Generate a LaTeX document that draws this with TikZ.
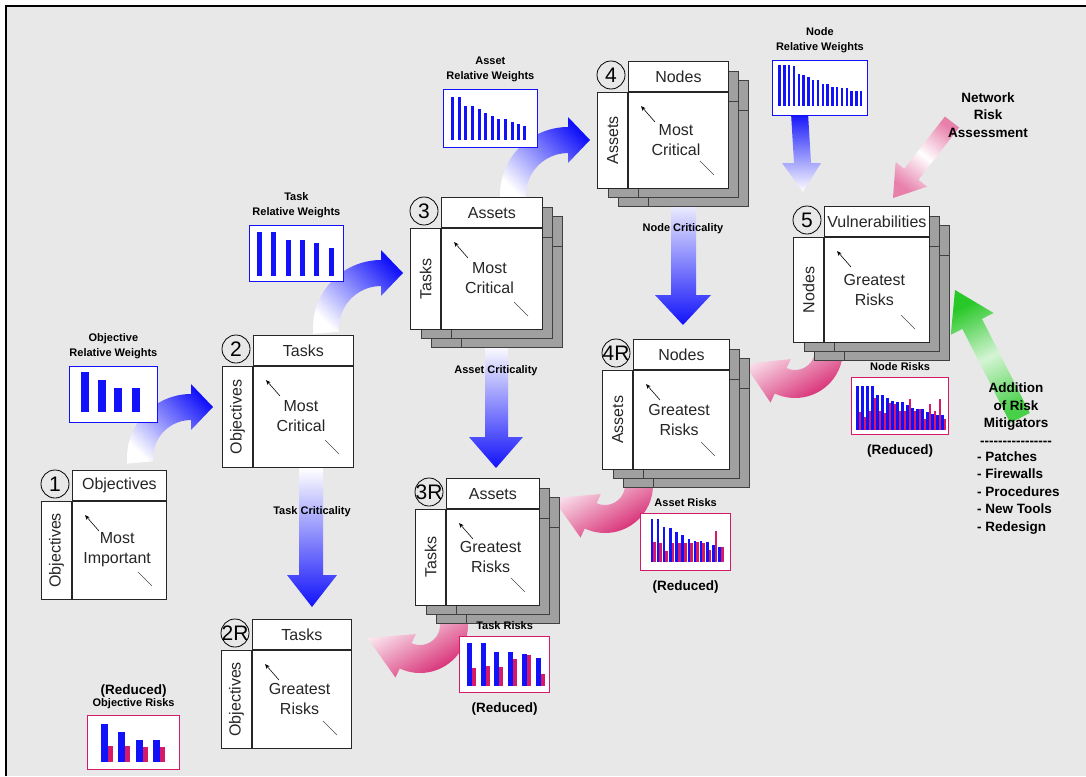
\documentclass[tikz,border=0pt]{standalone}
\usepackage{fontspec}
\setmainfont{Liberation Sans}
\usetikzlibrary{calc,arrows.meta,positioning}

\definecolor{bgc}{RGB}{232,232,232}
\definecolor{wblue}{RGB}{18,18,250}
\definecolor{rpink}{RGB}{212,26,104}
\definecolor{shadowgray}{RGB}{160,160,160}
\definecolor{ggreen}{RGB}{40,200,40}

% one matrix box: #1 name, (#2,#3) corner under the header on the column line,
% #4 x #5 cell size, #6 number, #7 header, #8 column, #9 cell text
\newcommand{\riskbox}[9]{%
  \node[hdr, minimum width=#4pt, anchor=south west] (#1-h) at (#2,#3) {#7};
  \node[colbox, minimum height=#5pt, anchor=north east] (#1-c) at (#2,#3) {};
  \node[boxtext, rotate=90] (#1-ct) at (#1-c.center) {#8};
  \node[cellbox, minimum width=#4pt, minimum height=#5pt, anchor=north west] (#1) at (#2,#3) {};
  \node[boxtext, align=center] (#1-t) at ($(#2,#3)+(0.48*#4,0.5*#5)$) {#9};
  \draw[line width=0.6pt, -{Stealth[length=5pt,width=4pt]}] ($(#2,#3)+(27,30)$) -- ($(#2,#3)+(13,14)$);
  \draw[line width=0.5pt, black!70] ($(#2,#3)+(#4-28,#5-27)$) -- ($(#2,#3)+(#4-14,#5-13)$);
  \node[numcirc] (#1-n) at (#2-17,#3-17) {};
  \node[numtext] at (#1-n) {#6};}

% two grey copies behind a box
\newcommand{\boxshadow}[4]{%
  \foreach \dx/\dy in {20/18,10/9}{%
    \filldraw[shadowbox] (#1+\dx,#2-30+\dy) rectangle (#1+#3+\dx,#2+\dy);
    \filldraw[shadowbox] (#1-30+\dx,#2+\dy) rectangle (#1+#3+\dx,#2+#4+\dy);
    \draw[shadowbox] (#1+\dx,#2+\dy) -- (#1+\dx,#2+#4+\dy);}}

% fat arrow bent along a circle: #1 shading, #2 centre, #3 radius, #4 half width,
% #5 start angle, #6 end angle, #7 head length, #8 head half width
\newcommand{\bandarrow}[8]{%
  \shade[#1] ([shift={#2}]#5:#3+#4) arc (#5:#6:#3+#4)
    -- ([shift={#2}]#6:#3+#8)
    -- ([shift={#2},shift={(#6:#3)}]#6+90:#7)
    -- ([shift={#2}]#6:#3-#8)
    -- ([shift={#2}]#6:#3-#4) arc (#6:#5:#3-#4) -- cycle;}

\begin{document}
\begin{tikzpicture}[x=1pt, y=-1pt,
    boxtext/.style={font=\fontsize{16}{20}\selectfont, text=black!85},
    hdr/.style={draw=black!85, fill=white, line width=0.8pt, minimum height=30pt, inner sep=0pt, boxtext},
    colbox/.style={draw=black!85, fill=white, line width=0.8pt, minimum width=30pt, inner sep=0pt},
    cellbox/.style={draw=black!85, fill=white, line width=0.8pt, inner sep=0pt},
    numcirc/.style={circle, draw=black, line width=0.8pt, minimum size=28pt, inner sep=0pt},
    numtext/.style={font=\fontsize{21}{21}\selectfont, inner sep=0pt},
    shadowbox/.style={fill=shadowgray, draw=black!75, line width=0.8pt},
    wframe/.style={draw=wblue, fill=white, line width=0.8pt, anchor=north west, inner sep=0pt},
    rframe/.style={draw=rpink, fill=white, line width=1.3pt, anchor=north west, inner sep=0pt},
    wbar/.style={fill=wblue},
    rbar/.style={fill=rpink},
    smalllabel/.style={font=\bfseries\fontsize{11}{14.5}\selectfont, align=center, inner sep=0pt},
    bigbold/.style={font=\bfseries\fontsize{13.5}{17.5}\selectfont, inner sep=0pt},
    blueband/.style={top color=wblue, bottom color=white, shading angle=-45},
    pinkband/.style={top color=white, bottom color=rpink, shading angle=30},
    critarrow/.style={top color=white, bottom color=wblue}]

    \useasboundingbox (0,0) rectangle (1086,776);
    \fill[bgc] (6,6) rectangle (1086,776);
    \draw[line width=2.5pt] (6,776) -- (6,6) -- (1086,6);

    % weights feeding the next box
    \bandarrow{blueband}{(191,458)}{51}{13}{175}{270}{22}{23}
    \bandarrow{blueband}{(381,328)}{55}{13}{175}{270}{22}{23}
    \bandarrow{blueband}{(568,195)}{55}{13}{175}{270}{22}{23}
    \shade[top color=wblue, bottom color=white] (791,113) -- (808,113) -- (811,163) -- (821,163)
        -- (803,192) -- (782,163) -- (794,163) -- cycle;

    % criticality arrows
    \shade[critarrow] (299,468) -- (323,468) -- (323,575) -- (337,575) -- (312,607) -- (287,575) -- (299,575) -- cycle;
    \shade[critarrow] (485,345) -- (508,345) -- (508,437) -- (523,437) -- (496,468) -- (469,437) -- (485,437) -- cycle;
    \shade[critarrow] (671,195) -- (696,195) -- (696,295) -- (711,295) -- (683,325) -- (655,295) -- (671,295) -- cycle;

    % risks handed back
    \bandarrow{pinkband}{(795,350)}{34}{14}{-15}{115}{40}{24}
    \bandarrow{pinkband}{(605,485)}{34}{14}{-15}{115}{42}{24}
    \bandarrow{pinkband}{(420,625)}{34}{14}{-15}{115}{42}{24}

    % assessment and mitigators
    \shade[top color=rpink!55, bottom color=rpink!55, middle color=white, shading angle=-38]
        (944.9,116.5) -- (959.1,127.5) -- (918.5,179.8) -- (927.2,186.6) -- (893,198)
        -- (895.6,162.0) -- (904.3,168.8) -- cycle;
    \shade[top color=ggreen, bottom color=ggreen!85, middle color=ggreen!20!white, shading angle=27]
        (1010.2,423.0) -- (1029.8,413.0) -- (982.0,318.9) -- (993.6,313.0) -- (955,290)
        -- (950.8,334.8) -- (962.4,328.9) -- cycle;

    % matrix boxes
    \riskbox{b1}{72}{501}{94}{98}{1}{Objectives}{Objectives}{Most\\Important}
    \riskbox{b2}{253}{366}{100}{101}{2}{Tasks}{Objectives}{Most\\Critical}
    \boxshadow{441}{228}{101}{101}
    \riskbox{b3}{441}{228}{101}{101}{3}{Assets}{Tasks}{Most\\Critical}
    \boxshadow{628}{92}{100}{96}
    \riskbox{b4}{628}{92}{100}{96}{4}{Nodes}{Assets}{Most\\Critical}
    \boxshadow{824}{237}{105}{105}
    \riskbox{b5}{824}{237}{105}{105}{5}{Vulnerabilities}{Nodes}{Greatest\\Risks}
    \boxshadow{633}{370}{96}{99}
    \riskbox{b4r}{633}{370}{96}{99}{4R}{Nodes}{Assets}{Greatest\\Risks}
    \boxshadow{446}{509}{93}{96}
    \riskbox{b3r}{446}{509}{93}{96}{3R}{Assets}{Tasks}{Greatest\\Risks}
    \riskbox{b2r}{252}{650}{99}{98}{2R}{Tasks}{Objectives}{Greatest\\Risks}

    % relative weights
    \node[wframe, minimum width=88pt, minimum height=56pt] (objw) at (69,366) {};
    \foreach \x/\t in {81/372,98/380,114/388,132/388}
        \fill[wbar] (\x,\t) rectangle (\x+8,412);
    \node[smalllabel, above=7pt of objw] (objwl) {Objective\\Relative Weights};

    \node[wframe, minimum width=94pt, minimum height=56pt] (taskw) at (249,225) {};
    \foreach \x/\t in {257/232,271/232,286/240,300/240,314/243,329/248}
        \fill[wbar] (\x,\t) rectangle (\x+4.5,276);
    \node[smalllabel, above=7pt of taskw] (taskwl) {Task\\Relative Weights};

    \node[wframe, minimum width=94pt, minimum height=58pt] (assetw) at (443,89) {};
    \foreach \x/\t in {451/97,457.5/97,464/106,471/106,477.5/109,484/113,490.5/116,497/119,504/119,510.5/122,517/124,523/126}
        \fill[wbar] (\x,\t) rectangle (\x+3,140);
    \node[smalllabel, above=7pt of assetw] (assetwl) {Asset\\Relative Weights};

    \node[wframe, minimum width=95pt, minimum height=55pt] (nodew) at (772,60) {};
    \foreach \t [count=\i] in {65,65,65,66,74,75,77,80,80,84,84,87,87,88,88,91,91,91}
        \fill[wbar] (773.5+4.8*\i,\t) rectangle (776+4.8*\i,106);
    \node[smalllabel, above=7pt of nodew] (nodewl) {Node\\Relative Weights};

    % criticality labels
    \node[smalllabel] (taskc) at (312,512) {Task Criticality};
    \node[smalllabel] (assetc) at (496,371) {Asset Criticality};
    \node[smalllabel] (nodec) at (683,229) {Node Criticality};

    % risks
    \node[rframe, minimum width=97pt, minimum height=57pt] (noderisk) at (851,377) {};
    \foreach \b/\m [count=\i] in {386/412,386/417,386/411,386/398,395/411,395/413,398/403,401/404,402/411,
                                  402/411,405/399,408/411,409/409,409/419,412/404,414/411,415/399,415/419}{
        \fill[wbar] (851.3+5*\i,\b) rectangle (853.7+5*\i,430);
        \fill[rbar] (853.7+5*\i,\m) rectangle (856.1+5*\i,430);}
    \node[smalllabel, above=6.5pt of noderisk] (noderl) {Node Risks};
    \node[bigbold, below=9pt of noderisk] (noderr) {(Reduced)};

    \node[rframe, minimum width=90pt, minimum height=57pt] (assetrisk) at (640,513) {};
    \foreach \b/\m [count=\i] in {519/542,519/543,527/551,528/543,532/543,535/543,539/543,541/542,541/543,542/550,545/531,547/547}{
        \fill[wbar] (644.5+6.15*\i,\b) rectangle (647+6.15*\i,562);
        \fill[rbar] (647+6.15*\i,\m) rectangle (649.8+6.15*\i,562);}
    \node[smalllabel, above=6.5pt of assetrisk] (assetrl) {Asset Risks};
    \node[bigbold, below=9pt of assetrisk] (assetrr) {(Reduced)};

    \node[rframe, minimum width=90pt, minimum height=56pt] (taskrisk) at (459,636) {};
    \foreach \x/\b/\m in {467/643/668,481/643/666,494/652/667,508/652/659,522/654/655,536/658/674}{
        \fill[wbar] (\x,\b) rectangle (\x+5,686);
        \fill[rbar] (\x+5,\m) rectangle (\x+8.5,686);}
    \node[smalllabel, above=6.5pt of taskrisk] (taskrl) {Task Risks};
    \node[bigbold, below=9pt of taskrisk] (taskrr) {(Reduced)};

    \node[rframe, minimum width=92pt, minimum height=54pt] (objrisk) at (87,715) {};
    \foreach \x/\b/\m in {101/724/746,118/732/746,136/740/747,153/740/747}{
        \fill[wbar] (\x,\b) rectangle (\x+7,762);
        \fill[rbar] (\x+7,\m) rectangle (\x+11.5,762);}
    \node[smalllabel, above=6pt of objrisk] (objrl) {Objective Risks};
    \node[bigbold, above=0.5pt of objrl] (objrr) {(Reduced)};

    % right hand notes
    \node[bigbold, align=center] (nra) at (988,115) {Network\\Risk\\Assessment};
    \node[bigbold, align=center] (mit) at (1016,414) {Addition\\of Risk\\Mitigators\\-{}-{}-{}-{}-{}-{}-{}-{}-{}-{}-{}-{}-{}-{}-{}-};
    \node[bigbold, align=left, anchor=west] (mitl) at (977,493) {- Patches\\- Firewalls\\- Procedures\\- New Tools\\- Redesign};
\end{tikzpicture}
\end{document}
